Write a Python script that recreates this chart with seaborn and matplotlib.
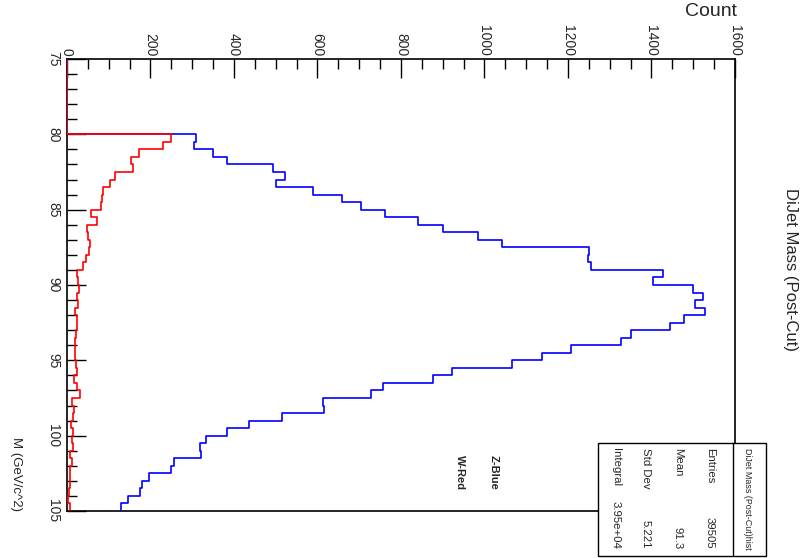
import numpy as np
import pandas as pd
import matplotlib
matplotlib.use("Agg")
import matplotlib.pyplot as plt
import seaborn as sns
from matplotlib.patches import Rectangle
from matplotlib.lines import Line2D
from matplotlib.ticker import MultipleLocator

# ---------------- data ----------------
bin_edges = [75.0 + 0.5 * i for i in range(61)]          # 60 bins of 0.5 GeV
bin_centers = [(a + b) / 2 for a, b in zip(bin_edges[:-1], bin_edges[1:])]

z_counts = [0, 0, 0, 0, 0, 0, 0, 0, 0, 0,
            310, 305, 349, 383, 494, 523, 500, 590, 658, 704,
            762, 840, 900, 985, 1042, 1251, 1247, 1256, 1427, 1403,
            1500, 1523, 1504, 1528, 1478, 1445, 1351, 1327, 1206, 1138,
            1066, 922, 877, 756, 727, 614, 616, 515, 436, 384,
            334, 319, 321, 256, 250, 197, 180, 176, 145, 129]

w_counts = [0, 0, 0, 0, 0, 0, 0, 0, 0, 0,
            248, 229, 172, 153, 159, 115, 103, 87, 83, 81,
            57, 73, 47, 50, 55, 53, 46, 39, 25, 27,
            29, 23, 27, 19, 25, 25, 21, 20, 18, 19,
            21, 23, 17, 23, 30, 12, 17, 14, 9, 14,
            12, 14, 7, 11, 7, 7, 6, 5, 2, 7]

count_ticks = [0, 200, 400, 600, 800, 1000, 1200, 1400, 1600]
mass_ticks = [75, 80, 85, 90, 95, 100, 105]

stat_labels = ["Entries", "Mean", "Std Dev", "Integral"]
stat_values = ["39505", "91.3", "5.221", "3.95e+04"]

df = pd.DataFrame({"mass": bin_centers, "z": z_counts, "w": w_counts})

# ---------------- style ----------------
sns.set_style("ticks")
FONT = ["Liberation Sans Narrow", "Liberation Sans", "DejaVu Sans"]
REG = ["Liberation Sans", "DejaVu Sans"]
plt.rcParams["font.family"] = FONT

W, H = 812, 558
fig = plt.figure(figsize=(W / 100, H / 100), dpi=100)
fig.patch.set_facecolor("white")

def fx(px):
    return px / W

def fy(py):
    return 1 - py / H

ax = fig.add_axes([fx(67), fy(511), fx(735) - fx(67), fy(59) - fy(511)])
ax.set_facecolor("white")

sns.histplot(data=df, y="mass", weights="z", bins=bin_edges, element="step",
             fill=False, color="#0000ff", linewidth=1.2, ax=ax, zorder=3)
sns.histplot(data=df, y="mass", weights="w", bins=bin_edges, element="step",
             fill=False, color="#ff0000", linewidth=1.2, ax=ax, zorder=3)

ax.set_xlim(0, 1600)
ax.set_ylim(105, 75)
ax.set_xlabel("")
ax.set_ylabel("")

ax.xaxis.tick_top()
ax.set_xticks(count_ticks)
ax.set_xticklabels([str(t) for t in count_ticks])
ax.xaxis.set_minor_locator(MultipleLocator(50))
ax.set_yticks(mass_ticks)
ax.set_yticklabels([str(t) for t in mass_ticks])
ax.yaxis.set_minor_locator(MultipleLocator(1))

ax.tick_params(axis="x", which="both", direction="in", top=True, bottom=False,
               labeltop=True, labelbottom=False, width=1.0, color="black")
ax.tick_params(axis="x", which="major", length=14, pad=2, labelsize=10,
               labelrotation=-90)
ax.tick_params(axis="x", which="minor", length=7)
ax.tick_params(axis="y", which="both", direction="in", left=True, right=False,
               width=1.0, color="black")
ax.tick_params(axis="y", which="major", length=14, pad=5, labelsize=10,
               labelrotation=-90)
ax.tick_params(axis="y", which="minor", length=7)
for lbl in ax.get_xticklabels():
    lbl.set_ha("center")
    lbl.set_va("bottom")
for lbl in ax.get_yticklabels():
    lbl.set_ha("right")
    lbl.set_va("center")

for s in ax.spines.values():
    s.set_visible(True)
    s.set_color("black")
    s.set_linewidth(1.2)

# ---------------- texts ----------------
fig.text(fx(737), fy(12), "Count", ha="right", va="center", fontsize=14,
         family=REG)
fig.text(fx(791), fy(270), "DiJet Mass (Post-Cut)", rotation=-90,
         ha="center", va="center", fontsize=12)
fig.text(fx(16), fy(511), "M (GeV/c^2)", rotation=-90, ha="center",
         va="bottom", fontsize=9.5)
fig.text(fx(494), fy(455), "Z-Blue", rotation=-90, ha="center", va="top",
         fontsize=8, weight="bold")
fig.text(fx(460), fy(455), "W-Red", rotation=-90, ha="center", va="top",
         fontsize=8, weight="bold")

# ---------------- stats box ----------------
bx0, bx1, by0, by1 = 598, 766, 443, 556
fig.add_artist(Rectangle((fx(bx0), fy(by1)), fx(bx1) - fx(bx0), fy(by0) - fy(by1),
                         transform=fig.transFigure, facecolor="white",
                         edgecolor="black", linewidth=1.0, zorder=10))
fig.add_artist(Line2D([fx(733), fx(733)], [fy(by0), fy(by1)],
                      transform=fig.transFigure, color="black",
                      linewidth=1.0, zorder=11))
fig.text(fx(748), fy(448), "DiJet Mass (Post-Cut)hist", rotation=-90,
         ha="center", va="top", fontsize=6.4, zorder=12)
row_x = [710, 678, 646, 616]
for xx, lab, val in zip(row_x, stat_labels, stat_values):
    fig.text(fx(xx), fy(448), lab, rotation=-90, ha="center", va="top",
             fontsize=8.2, zorder=12)
    fig.text(fx(xx), fy(549), val, rotation=-90, ha="center", va="bottom",
             fontsize=8.2, zorder=12)

fig.savefig("out.png", dpi=100)
